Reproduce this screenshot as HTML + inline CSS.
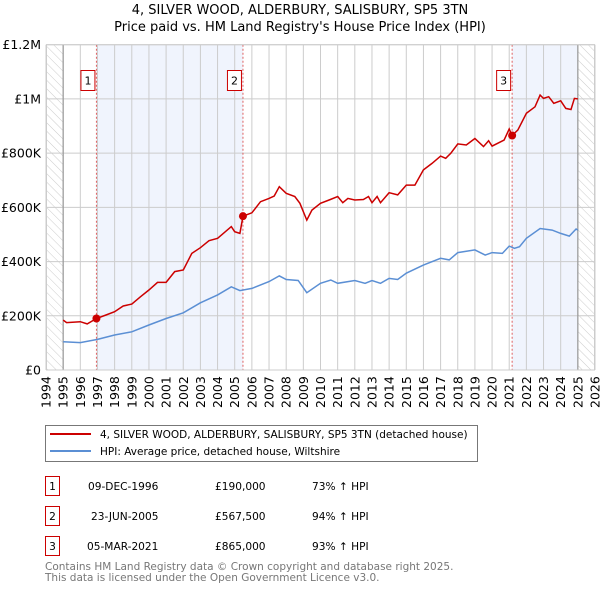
<!DOCTYPE html>
<html><head><meta charset="utf-8"><style>
body{margin:0;background:#fff;}
svg{display:block;font-family:"DejaVu Sans","Liberation Sans",sans-serif;}
</style></head><body>
<svg id="chart" width="600" height="590" viewBox="0 0 600 590" xmlns="http://www.w3.org/2000/svg">
<defs>
<pattern id="hatch" patternUnits="userSpaceOnUse" width="6" height="6" patternTransform="rotate(-45)">
<line x1="0" y1="0" x2="0" y2="6" stroke="#ccc" stroke-width="1"/>
</pattern>
</defs>
<text x="300" y="14" text-anchor="middle" font-size="13">4, SILVER WOOD, ALDERBURY, SALISBURY, SP5 3TN</text>
<text x="300" y="31" text-anchor="middle" font-size="13">Price paid vs. HM Land Registry's House Price Index (HPI)</text>
<g id="plot"></g>
<g>
<rect x="45.5" y="425.5" width="432" height="36" fill="#fff" stroke="#777"/>
<line x1="50" y1="434" x2="91" y2="434" stroke="#cc0000" stroke-width="2"/>
<text x="100" y="438" font-size="10.5">4, SILVER WOOD, ALDERBURY, SALISBURY, SP5 3TN (detached house)</text>
<line x1="50" y1="451" x2="91" y2="451" stroke="#5b8fd4" stroke-width="2"/>
<text x="100" y="455" font-size="10.5">HPI: Average price, detached house, Wiltshire</text>
</g>
<g font-size="10.6">
<rect x="45.5" y="476.5" width="14" height="19" fill="none" stroke="#cc0000"/>
<text x="52.5" y="490" text-anchor="middle">1</text>
<text x="88" y="490">09-DEC-1996</text><text x="215" y="490">£190,000</text><text x="312" y="490">73% ↑ HPI</text>
<rect x="45.5" y="506.5" width="14" height="19" fill="none" stroke="#cc0000"/>
<text x="52.5" y="520" text-anchor="middle">2</text>
<text x="91" y="520">23-JUN-2005</text><text x="215" y="520">£567,500</text><text x="312" y="520">94% ↑ HPI</text>
<rect x="45.5" y="536.5" width="14" height="19" fill="none" stroke="#cc0000"/>
<text x="52.5" y="550" text-anchor="middle">3</text>
<text x="87" y="550">05-MAR-2021</text><text x="215" y="550">£865,000</text><text x="312" y="550">93% ↑ HPI</text>
</g>
<text x="45" y="570" font-size="10.5" fill="#777">Contains HM Land Registry data © Crown copyright and database right 2025.</text>
<text x="45" y="581" font-size="10.5" fill="#777">This data is licensed under the Open Government Licence v3.0.</text>
</svg>
<script>
const redYears=[1995,1995.2,1996,1996.4,1996.94,1997.5,1998,1998.5,1999,1999.5,2000,2000.5,2001,2001.5,2002,2002.5,2003,2003.5,2004,2004.8,2005.0,2005.3,2005.48,2006,2006.5,2007,2007.3,2007.6,2008,2008.5,2008.8,2009.2,2009.5,2010,2010.5,2011,2011.3,2011.6,2012,2012.5,2012.8,2013,2013.3,2013.5,2014,2014.5,2015,2015.5,2016,2016.5,2017,2017.3,2017.6,2018,2018.5,2019,2019.5,2019.8,2020,2020.7,2021,2021.17,2021.5,2022,2022.5,2022.8,2023,2023.3,2023.6,2024,2024.3,2024.6,2024.8,2025];
const redValues=[184,175,178,170,190,203,215,236,243,270,295,323,323,363,369,430,451,477,486,529,510,504,567.5,580,621,633,642,676,652,640,615,553,590,615,627,640,617,633,627,629,640,617,640,617,654,646,682,682,738,762,789,781,800,834,830,854,824,846,826,848,889,865,885,947,971,1014,1002,1008,984,993,965,961,1002,1000];
const blueYears=[1995,1996,1997,1998,1999,2000,2001,2002,2003,2004,2004.8,2005.3,2006,2007,2007.6,2008,2008.7,2009.2,2010,2010.6,2011,2012,2012.6,2013,2013.5,2014,2014.5,2015,2016,2017,2017.5,2018,2019,2019.6,2020,2020.6,2021,2021.3,2021.6,2022,2022.8,2023.5,2024,2024.5,2024.9,2025];
const blueValues=[104,101,113,129,141,166,190,211,248,277,307,293,301,326,347,334,330,285,320,332,320,330,320,330,320,338,334,357,387,412,406,433,443,424,433,430,457,449,455,486,522,516,504,494,520,516];
const saleYears=[1996.94,2005.48,2021.17];
const saleValues=[190,567.5,865];
const saleLabels=["1","2","3"];
const yTicks=[0,200,400,600,800,1000,1200];
const yTickLabels=["£0","£200K","£400K","£600K","£800K","£1M","£1.2M"];
const xStart=1994,xEnd=2026;
const X0=46,X1=595,Y0=370,Y1=44.7;
const NS="http://www.w3.org/2000/svg";
function sx(t){return X0+(t-xStart)/(xEnd-xStart)*(X1-X0);}
function sy(v){return Y0-v/1200*(Y0-Y1);}
const g=document.getElementById('plot');
function mk(tag,attrs,parent){const e=document.createElementNS(NS,tag);for(const k in attrs)e.setAttribute(k,attrs[k]);(parent||g).appendChild(e);return e;}
let r;
r=mk('rect',{x:X0,y:Y1,width:X1-X0,height:Y0-Y1,fill:'#fff'});


r=mk('rect',{x:sx(1994),y:Y1,width:sx(1995)-sx(1994),height:Y0-Y1,fill:'url(#hatch)'});


r=mk('rect',{x:sx(2025),y:Y1,width:sx(2026)-sx(2025),height:Y0-Y1,fill:'url(#hatch)'});


r=mk('rect',{x:sx(saleYears[0]),y:Y1,width:sx(saleYears[1])-sx(saleYears[0]),height:Y0-Y1,fill:'#f0f4fd'});


r=mk('rect',{x:sx(saleYears[2]),y:Y1,width:sx(2025)-sx(saleYears[2]),height:Y0-Y1,fill:'#f0f4fd'});


for(let yr=xStart;yr<=xEnd;yr++){
  const l=mk('line',{x1:sx(yr),x2:sx(yr),y1:Y1,y2:Y0,stroke:'#ccc','stroke-width':1});
  
  
  const t=mk('text',{x:0,y:0,'font-size':12.5,transform:`translate(${sx(yr)+4.5},${Y0+38}) rotate(-90)`});
  t.textContent=yr;
  
  
}
yTicks.forEach((v,i)=>{
  const l=mk('line',{x1:X0,x2:X1,y1:sy(v),y2:sy(v),stroke:'#ccc','stroke-width':1});
  
  
  const t=mk('text',{x:41,y:sy(v)+4.5,'text-anchor':'end','font-size':12.5});
  t.textContent=yTickLabels[i];
  
  
});
[1995,2025].forEach(yr=>{
  const l=mk('line',{x1:sx(yr),x2:sx(yr),y1:Y1,y2:Y0,stroke:'#999','stroke-width':1.2});
  
  
});
saleYears.forEach((yr,i)=>{
  const l=mk('line',{x1:sx(yr),x2:sx(yr),y1:Y1,y2:Y0,stroke:'#e06060','stroke-width':1,'stroke-dasharray':'2,2'});
  
  
});
function path(xs,vs){return xs.map((t,i)=>(i?'L':'M')+sx(t).toFixed(1)+','+sy(vs[i]).toFixed(1)).join('');}
let p=mk('path',{d:path(blueYears,blueValues),fill:'none',stroke:'#5b8fd4','stroke-width':1.5});


p=mk('path',{d:path(redYears,redValues),fill:'none',stroke:'#cc0000','stroke-width':1.5});


saleYears.forEach((yr,i)=>{
  const c=mk('circle',{cx:sx(yr),cy:sy(saleValues[i]),r:4,fill:'#cc0000'});
  
  
  const bx=sx(yr)-7-8;
  const b=mk('rect',{x:bx-0.5,y:70.5,width:14,height:20,fill:'#fff',stroke:'#cc0000'});
  
  
  const t=mk('text',{x:bx+6.5,y:84.5,'text-anchor':'middle','font-size':11});
  t.textContent=saleLabels[i];
  
  
});
r=mk('rect',{x:X0+0.5,y:Y1,width:X1-X0-1,height:Y0-Y1,fill:'none',stroke:'#ccc'});


</script>
</body></html>
